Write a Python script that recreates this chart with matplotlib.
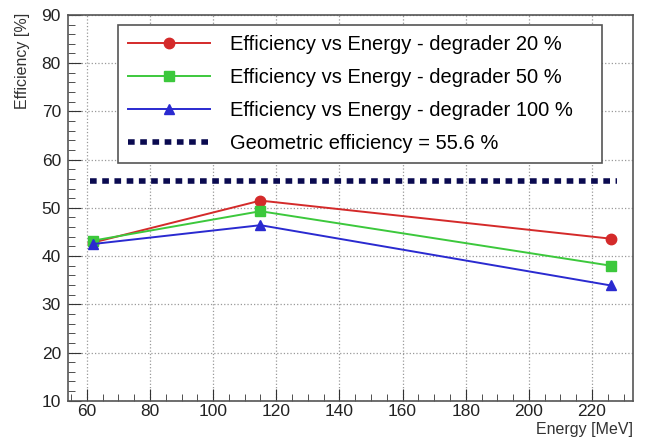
import numpy as np
import matplotlib
matplotlib.use("Agg")
import matplotlib.pyplot as plt
from matplotlib.ticker import MultipleLocator

plt.rcParams['font.family'] = ['Liberation Sans', 'DejaVu Sans']

# data
energia = [62, 115, 226]
eff_20 = [42.8, 51.5, 43.6]
eff_50 = [43.2, 49.3, 38.0]
eff_100 = [42.5, 46.4, 33.9]
eff_geom = 55.6
label_seri = ["Efficiency vs Energy - degrader 20 %",
              "Efficiency vs Energy - degrader 50 %",
              "Efficiency vs Energy - degrader 100 %",
              "Geometric efficiency = 55.6 %"]

fig = plt.figure(figsize=(6.46, 4.38), dpi=100)
ax = fig.add_axes([0.105, 0.085, 0.875, 0.881])

ax.plot(energia, eff_20, color='#d42a2a', marker='o', markersize=7.5, lw=1.4, label=label_seri[0])
ax.plot(energia, eff_50, color='#3cc83c', marker='s', markersize=7, lw=1.4, label=label_seri[1])
ax.plot(energia, eff_100, color='#2a2ad0', marker='^', markersize=7.5, lw=1.4, label=label_seri[2])
ax.plot([61, 228], [eff_geom, eff_geom], color='#0a0a50', lw=4, ls=(0, (1.2, 1.0)),
        label=label_seri[3])

ax.set_xlim(54, 233)
ax.set_ylim(10, 90)
ax.xaxis.set_major_locator(MultipleLocator(20))
ax.xaxis.set_minor_locator(MultipleLocator(5))
ax.yaxis.set_major_locator(MultipleLocator(10))
ax.yaxis.set_minor_locator(MultipleLocator(2))
ax.tick_params(which='both', direction='in', labelsize=12.5, color='#333333',
               labelcolor='#222222')
ax.tick_params(which='major', length=9)
ax.tick_params(which='minor', length=5)
ax.tick_params(axis='x', pad=2)
ax.tick_params(axis='y', pad=5)
ax.grid(True, which='major', ls=':', color='#999999', lw=0.9)

for s in ax.spines.values():
    s.set_color('#555555')
    s.set_linewidth(1.2)

# etichette assi in stile ROOT
ax.set_xlabel("Energy [MeV]", fontsize=11.5, color='#333333', ha='right')
ax.xaxis.set_label_coords(1.0, -0.054)
ax.set_ylabel("Efficiency [%]", fontsize=11.5, color='#333333', ha='right')
ax.yaxis.set_label_coords(-0.067, 1.005)

leg = ax.legend(loc='upper left', bbox_to_anchor=(0.088, 0.63, 0.857, 0.344),
                mode='expand', fontsize=14.5, handlelength=4.1, handletextpad=1.0,
                borderaxespad=0, fancybox=False, framealpha=1, labelspacing=0.7,
                borderpad=0.5)
leg.get_frame().set_edgecolor('#555555')
leg.get_frame().set_linewidth(1.2)

plt.savefig("out.png", dpi=100)
